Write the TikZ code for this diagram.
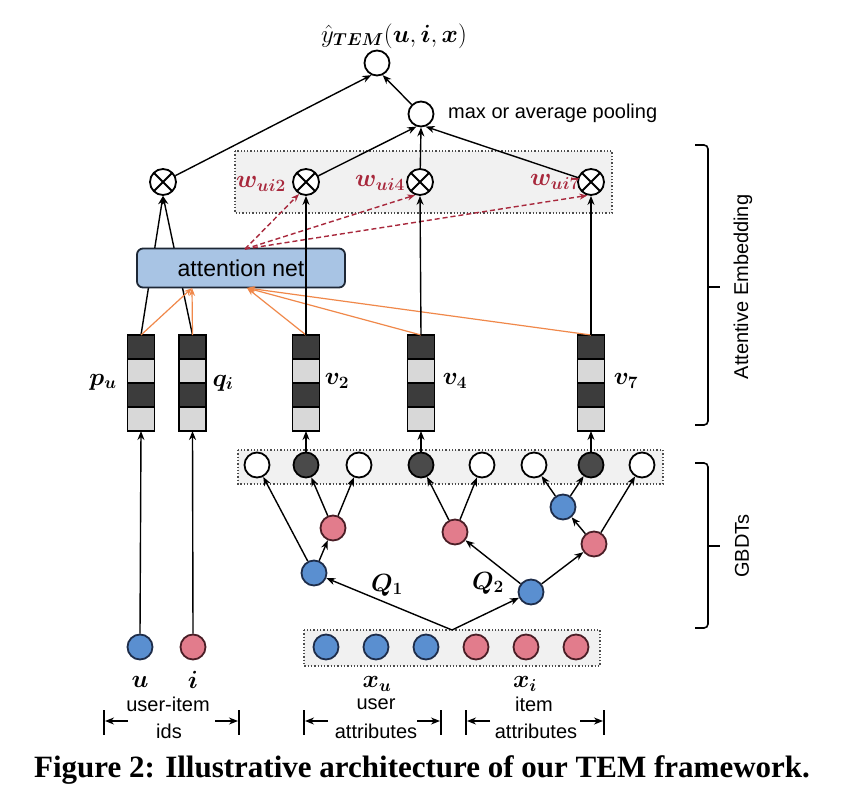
\documentclass[tikz,border=0pt]{standalone}
\usepackage{amsmath}
\usepackage{bm}
\usepackage[no-math]{fontspec}
\newfontfamily\arial{Liberation Sans}
\newfontfamily\capfont{Liberation Serif}
\usetikzlibrary{arrows.meta,calc}
\definecolor{nblue}{HTML}{5A8FD0}
\definecolor{nblueD}{HTML}{1E2D4A}
\definecolor{nred}{HTML}{E27C8C}
\definecolor{nredD}{HTML}{4A1E26}
\definecolor{leafdark}{HTML}{4A4A4A}
\definecolor{vdark}{HTML}{3C3C3C}
\definecolor{vlight}{HTML}{D8D8D8}
\definecolor{boxfill}{HTML}{F1F1F1}
\definecolor{attfill}{HTML}{A8C4E4}
\definecolor{attdraw}{HTML}{1E2836}
\definecolor{wred}{HTML}{A8283C}
\definecolor{orng}{HTML}{F0884A}
\newcommand\embvec[2]{%
  \node[vecnode] (#1) at (#2,383) {};
  \foreach \yy/\cc in {335/vdark,359/vlight,383/vdark,407/vlight}
    \filldraw[fill=\cc,draw=black,line width=1.5pt] (#2-13.5,\yy) rectangle (#2+13.5,\yy+24);
}
\tikzset{
  arr/.style={-{Stealth[length=9pt,width=7pt]}, line width=1.4pt},
  oarr/.style={-{Stealth[length=8pt,width=6pt]}, line width=1.2pt, draw=orng},
  darr/.style={-{Stealth[length=8pt,width=6pt]}, line width=1.4pt, draw=wred, dash pattern=on 5pt off 3pt},
  circ/.style={circle,draw,line width=1.8pt,minimum size=25pt,inner sep=0pt},
  bnode/.style={circ, fill=nblue, draw=nblueD},
  rnode/.style={circ, fill=nred, draw=nredD},
  wleaf/.style={circ, fill=white},
  dleaf/.style={circ, fill=leafdark},
  dotbox/.style={fill=boxfill, draw=black!70, dotted, line width=1.3pt},
  otimes/.style={circle,draw,line width=1.8pt,minimum size=26pt,inner sep=0pt,fill=white,
    path picture={\draw[line width=1.8pt] (path picture bounding box.north west) -- (path picture bounding box.south east)
      (path picture bounding box.north east) -- (path picture bounding box.south west);}},
  vecnode/.style={rectangle,minimum width=27pt,minimum height=96pt,inner sep=0pt,outer sep=0pt},
  att/.style={rectangle,rounded corners=6pt,draw=attdraw,line width=1.8pt,fill=attfill,
    minimum width=208pt,minimum height=39pt,inner sep=0pt,font=\arial\fontsize{23}{26}\selectfont},
  mlab/.style={font=\fontsize{25}{28}\selectfont, inner sep=0pt},
  qlab/.style={font=\fontsize{24}{28}\selectfont, inner sep=0pt},
  wlab/.style={font=\fontsize{23}{26}\selectfont, text=wred, inner sep=0pt},
  slab/.style={font=\arial\fontsize{20}{22}\selectfont, inner sep=0pt},
  brace/.style={line width=1.6pt, rounded corners=4pt},
}
\begin{document}
\begin{tikzpicture}[x=1pt,y=-1pt]
\useasboundingbox (0,0) rectangle (844,798);
\fill[white] (0,0) rectangle (844,798);
% dotted boxes
\draw[dotbox] (235,151) rectangle (612,213);
\draw[dotbox] (238,450) rectangle (663,484);
\draw[dotbox] (304,630) rectangle (600,666);
% top
\node[circ] (top) at (377,63) {};
\node[circ] (pool) at (421,114) {};
\node[slab, anchor=west] (pooltxt) at (448,113) {max or average pooling};
\node[font=\fontsize{23}{26}\selectfont, inner sep=0pt] (ylab) at (394,36) {$\hat{y}_{\bm{TEM}}(\bm{u},\bm{i},\bm{x})$};
% otimes
\node[otimes] (ot1) at (163,182) {};
\node[otimes] (ot2) at (306,182) {};
\node[otimes] (ot3) at (420,182) {};
\node[otimes] (ot4) at (591,182) {};
\node[wlab] (w2) at (261,184) {$\bm{w}_{\bm{ui2}}$};
\node[wlab] (w4) at (380,183) {$\bm{w}_{\bm{ui4}}$};
\node[wlab] (w7) at (555,182) {$\bm{w}_{\bm{ui7}}$};
% vectors
\embvec{pu}{141}
\embvec{qi}{192.5}
\embvec{v2}{306}
\embvec{v4}{421}
\embvec{v7}{591}
\node[mlab] (lpu) at (103,382) {$\bm{p}_{\bm{u}}$};
\node[mlab] (lqi) at (223,383) {$\bm{q}_{\bm{i}}$};
\node[mlab] (lv2) at (337,381) {$\bm{v}_{\bm{2}}$};
\node[mlab] (lv4) at (455,381) {$\bm{v}_{\bm{4}}$};
\node[mlab] (lv7) at (626,381) {$\bm{v}_{\bm{7}}$};
% leaves
\node[wleaf] (l1) at (257,465) {};
\node[dleaf] (l2) at (306,465) {};
\node[wleaf] (l3) at (359,465) {};
\node[dleaf] (l4) at (421,465) {};
\node[wleaf] (l5) at (482,465) {};
\node[wleaf] (l6) at (534,465) {};
\node[dleaf] (l7) at (591,465) {};
\node[wleaf] (l8) at (642,465) {};
% trees
\node[bnode] (t1r) at (314,573) {};
\node[rnode] (t1a) at (333,528) {};
\node[bnode] (t2r) at (531,592) {};
\node[rnode] (t2a) at (455,532) {};
\node[rnode] (t2b) at (594,544) {};
\node[bnode] (t2c) at (563,507) {};
% inputs
\node[bnode] (u) at (140,647) {};
\node[rnode] (i) at (193,647) {};
\node[bnode] (a1) at (326,647) {};
\node[bnode] (a2) at (376,647) {};
\node[bnode] (a3) at (426,647) {};
\node[rnode] (a4) at (476,647) {};
\node[rnode] (a5) at (526,647) {};
\node[rnode] (a6) at (576,647) {};
\coordinate (src) at (452,630);
% labels
\node[mlab] (lu) at (140,682) {$\bm{u}$};
\node[mlab] (li) at (193,680) {$\bm{i}$};
\node[mlab] (lxu) at (377,684) {$\bm{x}_{\bm{u}}$};
\node[mlab] (lxi) at (525,684) {$\bm{x}_{\bm{i}}$};
\node[qlab] (q1) at (387,585) {$\bm{Q}_{\bm{1}}$};
\node[qlab] (q2) at (488,583) {$\bm{Q}_{\bm{2}}$};
% lines behind attention net
\draw[arr] (pu.north) -- (ot1.south);
\draw[arr] (qi.north) -- (ot1.south);
% attention net
\node[att] (att) at (241,268) {attention net};
\coordinate (attin1) at (192,288);
\coordinate (attin2) at (247,288);
\coordinate (attout) at (245,249);
% orange
\draw[oarr] (pu.north) -- (attin1);
\draw[oarr] (qi.north) -- (attin1);
\draw[oarr] (v2.north) -- (attin2);
\draw[oarr] (v4.north) -- (attin2);
\draw[oarr] (v7.north) -- (attin2);
% dashed
\draw[darr] (attout) -- (ot2.-120);
\draw[darr] (attout) -- (ot3.-110);
\draw[darr] (attout) -- (ot4.-105);
% vertical to otimes
\draw[arr] (v2.north) -- (ot2.south);
\draw[arr] (v4.north) -- (ot3.south);
\draw[arr] (v7.north) -- (ot4.south);
% to pooling and top
\draw[arr] (ot2) -- (pool.-110);
\draw[arr] (ot3) -- (pool.-90);
\draw[arr] (ot4) -- (pool.-70);
\draw[arr] (ot1) -- (top.-115);
\draw[arr] (pool) -- (top.-65);
% leaves to vectors
\draw[arr] (l2.north) -- (v2.south);
\draw[arr] (l4.north) -- (v4.south);
\draw[arr] (l7.north) -- (v7.south);
\draw[arr] (u.north) -- (pu.south);
\draw[arr] (i.north) -- (qi.south);
% trees
\draw[arr] (src) -- (t1r);
\draw[arr] (src) -- (t2r);
\draw[arr] (t1r) -- (l1);
\draw[arr] (t1r) -- (t1a);
\draw[arr] (t1a) -- (l2);
\draw[arr] (t1a) -- (l3);
\draw[arr] (t2r) -- (t2a);
\draw[arr] (t2r) -- (t2b);
\draw[arr] (t2a) -- (l4);
\draw[arr] (t2a) -- (l5);
\draw[arr] (t2b) -- (t2c);
\draw[arr] (t2b) -- (l8);
\draw[arr] (t2c) -- (l6);
\draw[arr] (t2c) -- (l7);
% bottom group labels
\node[slab] (g1a) at (168,704) {user-item};
\node[slab] (g1b) at (169,731) {ids};
\node[slab] (g2a) at (376,704) {user};
\node[slab] (g2b) at (376,731) {attributes};
\node[slab] (g3a) at (534,704) {item};
\node[slab] (g3b) at (536,731) {attributes};
\foreach \xa/\xb in {104/239,304/441,466/604}{
  \draw[line width=1.8pt] (\xa,710) -- (\xa,735);
  \draw[line width=1.8pt] (\xb,710) -- (\xb,735);
  \draw[arr] (\xa+24,721) -- (\xa+1,721);
  \draw[arr] (\xb-24,721) -- (\xb-1,721);
}
% braces
\draw[brace] (695,145) -- (708,145) -- (708,425) -- (695,425);
\draw[line width=1.6pt] (708,287) -- (720,287);
\node[slab, rotate=90] (ae) at (743,287) {Attentive Embedding};
\draw[brace] (695,463) -- (708,463) -- (708,628) -- (695,628);
\draw[line width=1.6pt] (708,546) -- (720,546);
\node[slab, rotate=90] (gb) at (742,546) {GBDTs};
% caption
\node[font=\capfont\bfseries\fontsize{31}{34}\selectfont, inner sep=0pt] (cap) at (422,770) {Figure 2: Illustrative architecture of our TEM framework.};
\end{tikzpicture}
\end{document}
